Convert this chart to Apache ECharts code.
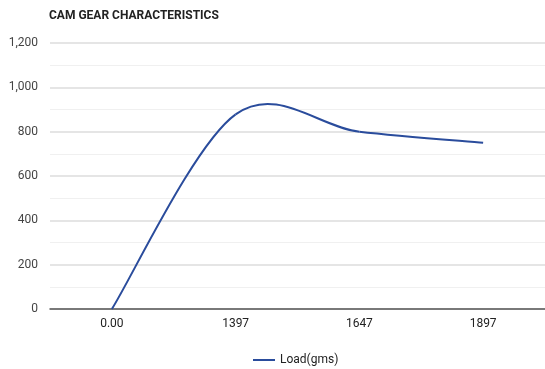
<!DOCTYPE html>
<html><head><meta charset="utf-8">
<script src="https://cdn.jsdelivr.net/npm/echarts@6/dist/echarts.min.js"></script>
<style>html,body{margin:0;padding:0;background:#fff}#c{width:545px;height:369px}</style>
</head><body><div id="c"></div>
<script>
const categories = ['0.00', '1397', '1647', '1897'];
const loadValues = [0, 878, 800, 750];
const yTicks = [0, 200, 400, 600, 800, 1000, 1200];
const LINE_COLOR = '#2a4c9c';

function renderCurve(params, api) {
  if (params.dataIndex !== 0) return null;
  const pts = loadValues.map((v, i) => api.coord([i, v]));
  const n = pts.length;
  const children = [];
  for (let i = 0; i < n - 1; i++) {
    const p0 = pts[Math.max(i - 1, 0)], p1 = pts[i], p2 = pts[i + 1], p3 = pts[Math.min(i + 2, n - 1)];
    children.push({
      type: 'bezierCurve',
      shape: {
        x1: p1[0], y1: p1[1], x2: p2[0], y2: p2[1],
        cpx1: p1[0] + (p2[0] - p0[0]) / 6, cpy1: p1[1] + (p2[1] - p0[1]) / 6,
        cpx2: p2[0] - (p3[0] - p1[0]) / 6, cpy2: p2[1] - (p3[1] - p1[1]) / 6
      },
      style: {fill: null, stroke: LINE_COLOR, lineWidth: 2}
    });
  }
  return {type: 'group', children};
}

const chart = echarts.init(document.getElementById('c'), null, {renderer: 'canvas'});
chart.setOption({
  animation: false,
  textStyle: {fontFamily: 'Roboto'},
  title: {text: 'CAM GEAR CHARACTERISTICS', left: 44, top: 5,
    textStyle: {fontSize: 12, fontWeight: 'bold', color: '#222', fontFamily: 'Roboto'}},
  legend: {top: 349, left: 248, itemWidth: 22, itemHeight: 2, itemGap: 6,
    textStyle: {fontSize: 12, color: '#222', fontFamily: 'Roboto'},
    data: [{name: 'Load(gms)', icon: 'rect'}]},
  grid: {left: 50, right: -2, top: 43, bottom: 60, containLabel: false},
  xAxis: {type: 'category', data: categories, boundaryGap: true,
    axisLine: {lineStyle: {color: '#555', width: 1.5}}, axisTick: {show: false},
    axisLabel: {color: '#222', fontSize: 12, margin: 9}},
  yAxis: {type: 'value', min: yTicks[0], max: yTicks[yTicks.length-1], interval: 200,
    axisLine: {show: false}, axisTick: {show: false},
    axisLabel: {color: '#444', fontSize: 12, margin: 12,
      formatter: v => v.toLocaleString('en-US')},
    splitLine: {lineStyle: {color: '#dcdcdc', width: 1.5}},
    minorTick: {show: false, splitNumber: 2},
    minorSplitLine: {show: true, lineStyle: {color: '#f0f0f0', width: 1}}},
  series: [{name: 'Load(gms)', type: 'custom', renderItem: renderCurve,
    data: loadValues.map((v, i) => [i, v]), encode: {x: 0, y: 1},
    itemStyle: {color: LINE_COLOR}}]
});
</script></body></html>
